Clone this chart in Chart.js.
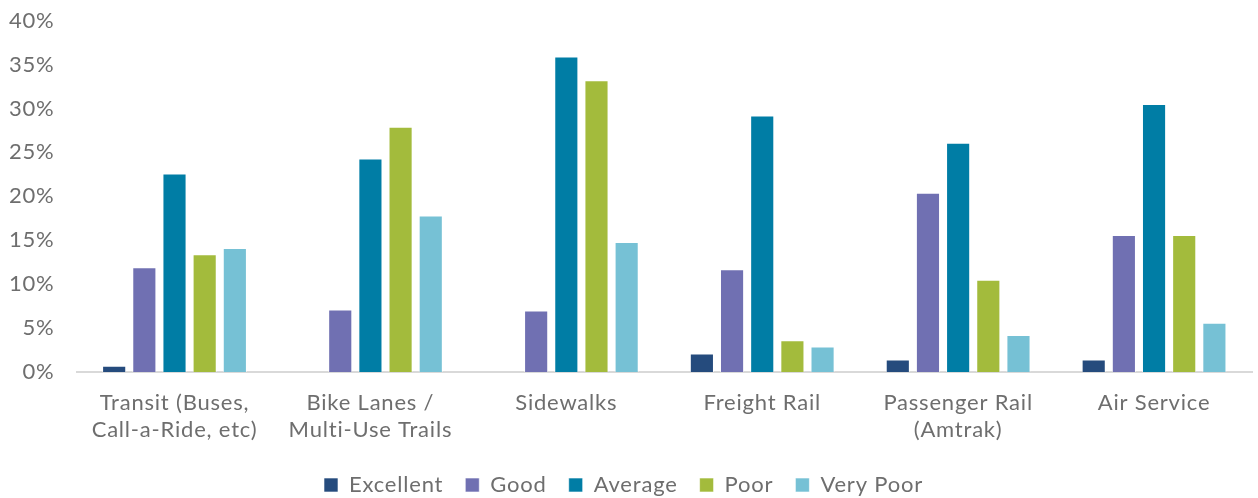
<!DOCTYPE html>
<html>
<head>
<meta charset="utf-8">
<script src="https://cdn.jsdelivr.net/npm/chart.js@4"></script>
<style>
html,body{margin:0;padding:0;background:#fff;}
#wrap{width:1258px;height:498px;position:relative;}
</style>
</head>
<body>
<div id="wrap"><canvas id="c"></canvas></div>
<script>
const categories = [
  ["Transit (Buses,", "Call-a-Ride, etc)"],
  ["Bike Lanes /", "Multi-Use Trails"],
  "Sidewalks",
  "Freight Rail",
  ["Passenger Rail", "(Amtrak)"],
  "Air Service"
];
const seriesNames = ["Excellent", "Good", "Average", "Poor", "Very Poor"];
const excellent = [0.7, 0, 0, 2.1, 1.4, 1.4];
const good      = [11.9, 7.1, 7.0, 11.7, 20.4, 15.6];
const average   = [22.6, 24.3, 35.9, 29.2, 26.1, 30.5];
const poor      = [13.4, 27.9, 33.2, 3.6, 10.5, 15.6];
const veryPoor  = [14.1, 17.8, 14.8, 2.9, 4.2, 5.6];
const yTicks = [0, 5, 10, 15, 20, 25, 30, 35, 40];
const colors = ["#254b7d", "#7070b2", "#007da5", "#a3bb3c", "#76c1d5"];

const seriesValues = [excellent, good, average, poor, veryPoor];
const FONT = "Lato, 'Open Sans', sans-serif";
const TXT = "#6e6e6e";

const spacing = {
  id: 'spacing',
  beforeLayout(chart) { chart.ctx.letterSpacing = '0.8px'; },
  beforeDraw(chart) { chart.ctx.letterSpacing = '0.8px'; }
};

new Chart(document.getElementById('c'), {
  type: 'bar',
  plugins: [spacing],
  data: {
    labels: categories,
    datasets: seriesNames.map((n, i) => ({
      label: n,
      data: seriesValues[i],
      backgroundColor: colors[i],
      borderColor: "rgba(255,255,255,0.6)",
      borderWidth: 1,
      categoryPercentage: 0.77,
      barPercentage: 0.8
    }))
  },
  options: {
    responsive: true,
    maintainAspectRatio: false,
    animation: false,
    layout: { padding: { top: -10, right: 6, left: -5, bottom: -8 } },
    plugins: {
      legend: {
        position: 'bottom',
        labels: {
          font: { family: FONT, size: 22 },
          color: TXT,
          boxWidth: 14,
          boxHeight: 14,
          padding: 22
        }
      },
      tooltip: { enabled: false }
    },
    scales: {
      x: {
        grid: { display: false },
        border: { display: true, color: "#d9d9d9", width: 2 },
        ticks: {
          font: { family: FONT, size: 22, lineHeight: 1.23 },
          color: TXT,
          maxRotation: 0,
          autoSkip: false,
          padding: 9
        }
      },
      y: {
        min: 0,
        max: 40,
        afterBuildTicks: (s) => { s.ticks = yTicks.map(v => ({ value: v })); },
        grid: { display: false },
        border: { display: false },
        ticks: {
          font: { family: FONT, size: 22, lineHeight: 0.6 },
          color: TXT,
          padding: 14,
          callback: (v) => v + "%"
        }
      }
    }
  }
});
</script>
</body>
</html>
